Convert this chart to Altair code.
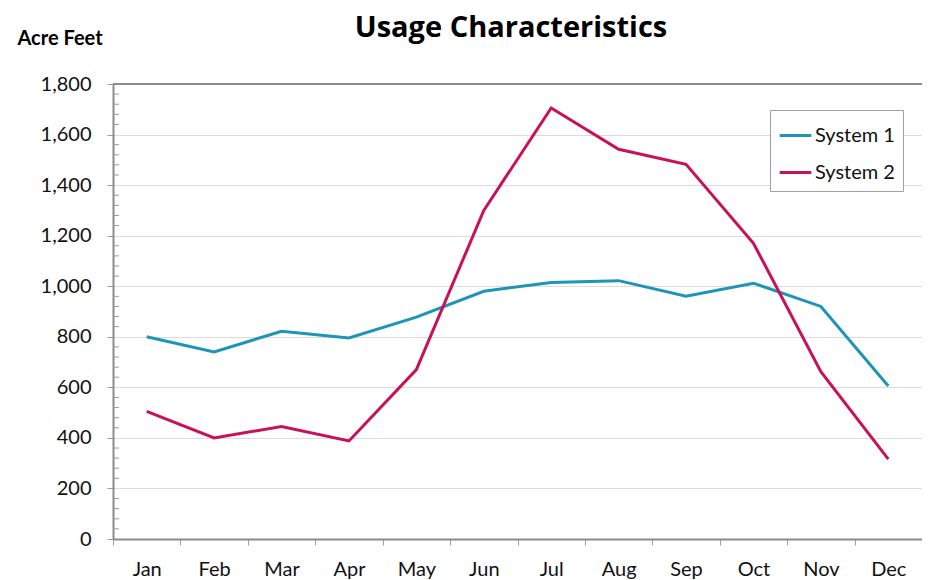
import altair as alt
import pandas as pd

months = ["Jan", "Feb", "Mar", "Apr", "May", "Jun", "Jul", "Aug", "Sep", "Oct", "Nov", "Dec"]
system1 = [800, 740, 822, 795, 878, 980, 1015, 1022, 960, 1012, 920, 605]
system2 = [505, 400, 445, 388, 670, 1300, 1705, 1542, 1482, 1170, 662, 316]
series_names = ["System 1", "System 2"]
series_colors = ["#1C95B7", "#C9115A"]
y_major = [0, 200, 400, 600, 800, 1000, 1200, 1400, 1600, 1800]
y_minor = [v for v in range(0, 1801, 40) if v % 200 != 0]
title_text = "Usage Characteristics"

rows = []
for m, a, b in zip(months, system1, system2):
    rows.append({"month": m, "series": series_names[0], "value": a})
    rows.append({"month": m, "series": series_names[1], "value": b})
df = pd.DataFrame(rows)

FONT = "Lato"
W, H = 809, 455
y_scale = alt.Scale(domain=[0, 1800], nice=False, zero=True)
x_scale = alt.Scale(type="band", domain=months, paddingInner=0, paddingOuter=0)

lines = alt.Chart(df).mark_line(strokeWidth=3).encode(
    x=alt.X("month:N", scale=x_scale, sort=months, bandPosition=0.5,
            axis=alt.Axis(title=None, labelAngle=0, tickBand="extent", tickSize=6,
                          tickColor="#9a9a9a", domainColor="#8c8c8c", domainWidth=2,
                          labelFontSize=20, labelColor="#111", labelFont=FONT,
                          labelPadding=14, grid=False)),
    y=alt.Y("value:Q", scale=y_scale,
            axis=alt.Axis(values=y_major, format=",.0f", tickSize=6, tickColor="#9a9a9a",
                          domainColor="#8c8c8c", domainWidth=2, gridColor="#dcdcdc",
                          labelFontSize=20, labelColor="#111", labelFont=FONT,
                          labelPadding=16,
                          title="Acre Feet", titleAngle=0, titleX=-96, titleY=-46,
                          titleAlign="left", titleBaseline="middle", titleFontSize=20,
                          titleFont=FONT, titleFontWeight="bold", titleColor="#000")),
    color=alt.Color("series:N", scale=alt.Scale(domain=series_names, range=series_colors),
                    legend=alt.Legend(title=None, orient="none", legendX=657, legendY=26,
                                      symbolType="stroke", symbolSize=1000, symbolStrokeWidth=3,
                                      labelFontSize=20, labelFont=FONT, labelColor="#111",
                                      strokeColor="#a0a0a0", padding=8, rowPadding=9,
                                      labelOffset=2, fillColor="white")),
)

minor_df = pd.DataFrame({"v": y_minor})
minor = alt.Chart(minor_df).mark_rule(color="#9a9a9a", strokeWidth=1).encode(
    y=alt.Y("v:Q", scale=y_scale),
    x=alt.value(0), x2=alt.value(6),
)

top_df = pd.DataFrame({"v": [1800]})
top = alt.Chart(top_df).mark_rule(color="#8c8c8c", strokeWidth=2).encode(
    y=alt.Y("v:Q", scale=y_scale),
    x=alt.value(0), x2=alt.value(W),
)

title_df = pd.DataFrame({"t": [title_text]})
title = alt.Chart(title_df).mark_text(fontSize=29, font="Open Sans", fontWeight="bold", color="#000",
                                      align="center", baseline="middle").encode(
    text="t:N", x=alt.value(398), y=alt.value(-56),
)

chart = alt.layer(minor, top, lines, title).properties(
    width=W, height=H,
    autosize=alt.AutoSizeParams(type="none"),
    padding={"left": 105, "top": 76, "right": 0, "bottom": 42},
).configure_view(strokeWidth=0, stroke="transparent")

chart.save("out.html", embed_options={"renderer": "svg", "actions": False})
